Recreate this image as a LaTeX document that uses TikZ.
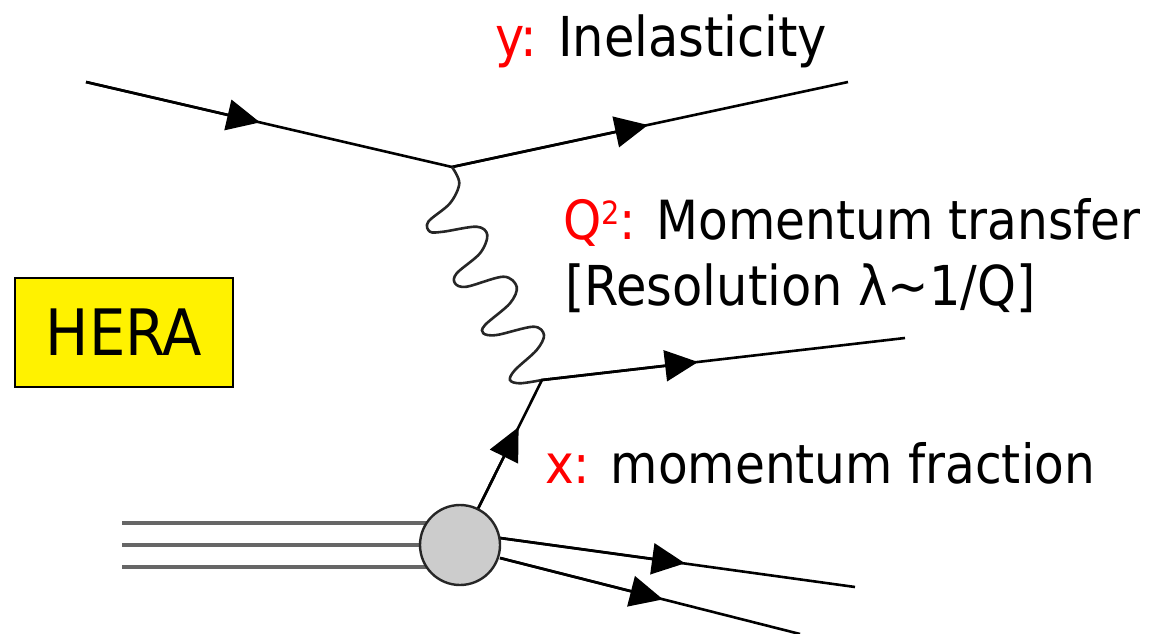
\documentclass[tikz,border=0pt]{standalone}
\usepackage{fontspec}
\setmainfont{DejaVu Sans Condensed}
\usetikzlibrary{arrows.meta,calc}
\begin{document}
\begin{tikzpicture}[x=1pt,y=-1pt,
  fermion/.style={line width=2.6pt, draw=black},
  arrowtip/.style={-{Triangle[length=33pt,width=31pt]}, line width=2.6pt, draw=black, fill=black},
  proton/.style={line width=3.2pt, draw=black!60},
  photon/.style={line width=2.6pt, draw=black!85},
  blobstyle/.style={circle, draw=black!85, line width=2.4pt, fill=black!20, minimum size=80pt, inner sep=0pt},
  lbl/.style={anchor=base west, inner sep=0pt, font=\fontsize{55}{66}\selectfont},
  lbls/.style={anchor=base west, inner sep=0pt, font=\fontsize{54}{66}\selectfont},
  herabox/.style={draw, line width=2.6pt, fill=yellow, minimum width=218pt, minimum height=109pt, inner sep=0pt, font=\fontsize{64}{70}\selectfont}]
\useasboundingbox (0,0) rectangle (1154,634);
% coordinates
\coordinate (e1) at (86,82);
\coordinate (v1) at (452,167);
\coordinate (e2) at (848,82);
\coordinate (v2) at (542,380);
\coordinate (q2) at (905,338);
\coordinate (bc) at (460,545);
\coordinate (p1) at (122,523);
\coordinate (p2) at (122,545);
\coordinate (p3) at (122,567);
\coordinate (s1) at (500,538);
\coordinate (t1) at (855,587);
\coordinate (s2) at (500,558);
\coordinate (t2) at (800,634);
\coordinate (a1) at (260,122.4);
\coordinate (a2) at (648,125);
\coordinate (a4) at (698,362);
\coordinate (a5) at (685,563.3);
\coordinate (a6) at (663,599.4);
% electron
\draw[fermion] (e1) -- (v1) -- (e2);
\draw[arrowtip] (e1) -- (a1);
\draw[arrowtip] (v1) -- (a2);
% photon
\draw[photon] plot[smooth, tension=0.55] coordinates {(452,167) (459.3,183.3) (450,203.3) (428.3,221.7) (430,231.7) (443.3,231.7) (476.7,226.7) (487.3,235) (480,253.3) (456.7,273.3) (455,283.3) (466.7,286.7) (503.3,276.7) (516.7,286.7) (510,303.3) (485,325) (483.3,333.3) (496.7,335) (533.3,326.7) (544,335) (536.7,350) (515,370) (510,380) (520,383.3) (542,380)};
% proton lines
\draw[proton] (p1) -- (p1 -| bc);
\draw[proton] (p2) -- (p2 -| bc);
\draw[proton] (p3) -- (p3 -| bc);
% spectators
\draw[fermion] (s1) -- (t1);
\draw[fermion] (s2) -- (t2);
\draw[arrowtip] (s1) -- (a5);
\draw[arrowtip] (s2) -- (a6);
% blob
\node[blobstyle] (blob) at (bc) {};
% struck quark
\draw[fermion] (blob) -- (v2) -- (q2);
\draw[arrowtip] (blob) -- ($(bc)!0.715!(v2)$);
\draw[arrowtip] (v2) -- (a4);
% labels
\node[lbl] (ty) at (495,57) {\textcolor{red}{y:} Inelasticity};
\node[lbls] (tq) at (563,239) {\textcolor{red}{Q\raisebox{15pt}{\fontsize{32}{36}\selectfont 2}:} Momentum transfer};
\node[lbl] (tr) at (565,305) {[Resolution λ\textasciitilde 1/Q]};
\node[lbls] (tx) at (545,483) {\textcolor{red}{x:} momentum fraction};
\node[herabox] (hera) at (124,332.5) {HERA};
\end{tikzpicture}
\end{document}
